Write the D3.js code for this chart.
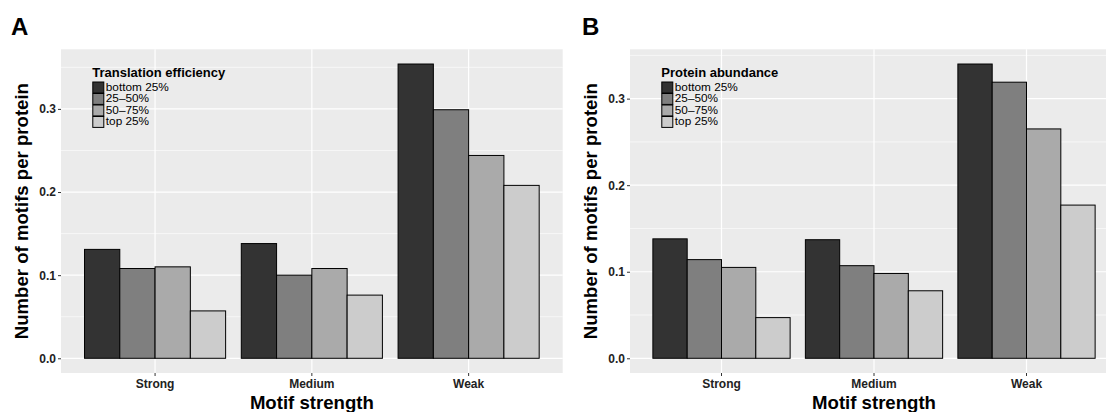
<!DOCTYPE html>
<html>
<head>
<meta charset="utf-8">
<script src="https://cdn.jsdelivr.net/npm/d3@7"></script>
<style>
  html, body { margin: 0; padding: 0; background: #fff; }
  svg { display: block; font-family: "Liberation Sans", Arial, Helvetica, sans-serif; }
</style>
</head>
<body>
<svg id="chart" width="1106" height="412"></svg>
<script>
// Motif strength categories on the x axis
const categories = ["Strong", "Medium", "Weak"];
// Quartile groups shown as dodged bars
const quartiles = ["bottom 25%", "25\u201350%", "50\u201375%", "top 25%"];
const quartileFills = ["#333333", "#7f7f7f", "#aaaaaa", "#cccccc"];

// Motifs per protein by translation-efficiency quartile (rows follow categories)
const translationEfficiency = [
  [0.131, 0.108, 0.110, 0.057],
  [0.138, 0.100, 0.108, 0.076],
  [0.354, 0.299, 0.244, 0.208]
];
// Motifs per protein by protein-abundance quartile
const proteinAbundance = [
  [0.138, 0.114, 0.105, 0.047],
  [0.137, 0.107, 0.098, 0.078],
  [0.340, 0.319, 0.265, 0.177]
];

const yTicks = [0.0, 0.1, 0.2, 0.3];
const yMinorTicks = [0.05, 0.15, 0.25, 0.35];
const yTitle = "Number of motifs per protein";
const xTitle = "Motif strength";

const svg = d3.select("#chart");

function drawPanel(opts) {
  const { tag, legendTitle, values, left, right, top, bottom } = opts;
  const g = svg.append("g");

  const maxV = d3.max(values.flat());
  const pad = maxV * 0.05;
  const y = d3.scaleLinear().domain([-pad, maxV + pad]).range([bottom, top]);

  const x = d3.scaleBand().domain(categories).range([left, right])
    .paddingInner(0.1).paddingOuter(0.15);
  const xInner = d3.scaleBand().domain(quartiles).range([0, x.bandwidth()]).padding(0);

  // panel background
  g.append("rect").attr("x", left).attr("y", top)
    .attr("width", right - left).attr("height", bottom - top).attr("fill", "#ebebeb");

  // grid
  g.selectAll(".minor").data(yMinorTicks.filter(v => y(v) >= top)).join("line")
    .attr("x1", left).attr("x2", right).attr("y1", d => y(d)).attr("y2", d => y(d))
    .attr("stroke", "#ffffff").attr("stroke-width", 0.6);
  g.selectAll(".major").data(yTicks).join("line")
    .attr("x1", left).attr("x2", right).attr("y1", d => y(d)).attr("y2", d => y(d))
    .attr("stroke", "#ffffff").attr("stroke-width", 1.2);
  g.selectAll(".vgrid").data(categories).join("line")
    .attr("x1", d => x(d) + x.bandwidth() / 2).attr("x2", d => x(d) + x.bandwidth() / 2)
    .attr("y1", top).attr("y2", bottom)
    .attr("stroke", "#ffffff").attr("stroke-width", 1.2);

  // bars
  categories.forEach((cat, ci) => {
    g.selectAll(null).data(values[ci]).join("rect")
      .attr("x", (d, i) => x(cat) + xInner(quartiles[i]))
      .attr("width", xInner.bandwidth())
      .attr("y", d => y(d))
      .attr("height", d => y(0) - y(d))
      .attr("fill", (d, i) => quartileFills[i])
      .attr("stroke", "#000").attr("stroke-width", 1);
  });

  // y axis ticks and labels
  const yAxis = d3.axisLeft(y).tickValues(yTicks).tickFormat(d3.format(".1f")).tickSize(3).tickPadding(2);
  const ya = g.append("g").attr("transform", `translate(${left},0)`).call(yAxis);
  ya.select(".domain").remove();
  ya.selectAll("line").attr("stroke", "#333");
  ya.selectAll("text").attr("font-size", 12).attr("font-weight", "bold")
    .attr("fill", "#222").attr("font-family", "Liberation Sans, Arial, sans-serif");

  // x axis ticks and labels
  const xAxis = d3.axisBottom(x).tickSize(3).tickPadding(3);
  const xa = g.append("g").attr("transform", `translate(0,${bottom})`).call(xAxis);
  xa.select(".domain").remove();
  xa.selectAll("line").attr("stroke", "#333");
  xa.selectAll("text").attr("font-size", 12).attr("font-weight", "bold")
    .attr("fill", "#222").attr("font-family", "Liberation Sans, Arial, sans-serif");

  // axis titles
  g.append("text").attr("x", (left + right) / 2).attr("y", 409)
    .attr("text-anchor", "middle").attr("font-size", 18.6).attr("font-weight", "bold")
    .text(xTitle);
  g.append("text")
    .attr("transform", `translate(${left - 33},${(top + bottom) / 2}) rotate(-90)`)
    .attr("text-anchor", "middle").attr("font-size", 18.6).attr("font-weight", "bold")
    .text(yTitle);

  // panel tag
  g.append("text").attr("x", opts.tagX).attr("y", 35)
    .attr("font-size", 24).attr("font-weight", "bold").text(tag);

  // legend inside the panel
  const lx = left + 31.3, ly = 77;
  const lg = g.append("g");
  lg.append("text").attr("x", lx).attr("y", ly)
    .attr("font-size", 13).attr("font-weight", "bold").text(legendTitle);
  const keyH = 11.5;
  quartiles.forEach((q, i) => {
    lg.append("rect").attr("x", lx + 0.5).attr("y", ly + 5 + i * keyH)
      .attr("width", 11).attr("height", keyH - 0.6)
      .attr("fill", quartileFills[i]).attr("stroke", "#000").attr("stroke-width", 1);
    lg.append("text").attr("x", lx + 13.5).attr("y", ly + 13.7 + i * keyH)
      .attr("font-size", 11.8).text(q);
  });
}

drawPanel({ tag: "A", tagX: 11, legendTitle: "Translation efficiency",
  values: translationEfficiency, left: 61, right: 562.7, top: 49.3, bottom: 373 });
drawPanel({ tag: "B", tagX: 582, legendTitle: "Protein abundance",
  values: proteinAbundance, left: 630, right: 1118, top: 49.3, bottom: 373 });
</script>
</body>
</html>
